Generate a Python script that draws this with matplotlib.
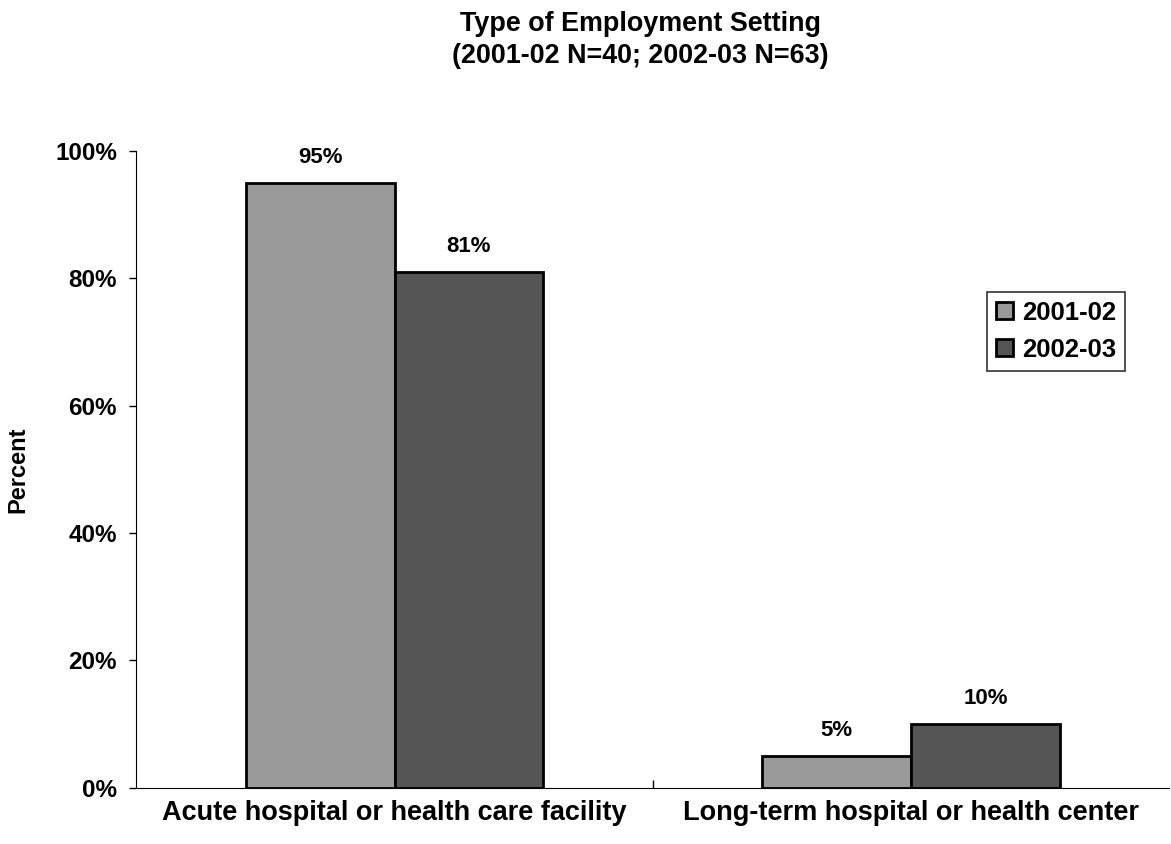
import numpy as np
import matplotlib
matplotlib.use('Agg')
import matplotlib.pyplot as plt
from matplotlib.ticker import FuncFormatter

plt.rcParams['font.family'] = ['Liberation Sans', 'DejaVu Sans']
plt.rcParams['font.weight'] = 'bold'

# data
categories = ['Acute hospital or health care facility', 'Long-term hospital or health center']
years = ['2001-02', '2002-03']
pct_2001 = [95, 5]
pct_2002 = [81, 10]
colors = ['#9a9a9a', '#555555']

fig = plt.figure(figsize=(11.71, 8.44), dpi=100)
ax = fig.add_axes([0.1165, 0.0666, 0.882, 0.7544])

x = np.arange(len(categories)) + 0.5
w = 0.288
b1 = ax.bar(x - w / 2, pct_2001, w, color=colors[0], edgecolor='black', linewidth=2, label=years[0])
b2 = ax.bar(x + w / 2, pct_2002, w, color=colors[1], edgecolor='black', linewidth=2, label=years[1])

for bars in (b1, b2):
    for r in bars:
        h = r.get_height()
        ax.text(r.get_x() + r.get_width() / 2, h + 2.3, '%d%%' % h,
                ha='center', va='bottom', fontsize=16, fontweight='bold')

ax.set_xlim(0, 2)
ax.set_ylim(0, 100)
ax.set_yticks(np.arange(0, 101, 20))
ax.yaxis.set_major_formatter(FuncFormatter(lambda v, p: '%d%%' % v))
ax.tick_params(axis='y', labelsize=17.5, length=5, width=1, pad=9)

ax.set_xticks(x)
ax.set_xticklabels(categories, fontsize=19.5, fontweight='bold')
ax.tick_params(axis='x', length=0, pad=9)
ax.set_xticks([1], minor=True)
ax.tick_params(axis='x', which='minor', length=6, width=1, direction='in')

ax.spines['top'].set_visible(False)
ax.spines['right'].set_visible(False)

ax.set_ylabel('Percent', fontsize=17, fontweight='bold')
ax.yaxis.set_label_coords(-0.1035, 0.5)

fig.text(0.547, 0.987, 'Type of Employment Setting\n(2001-02 N=40; 2002-03 N=63)',
         ha='center', va='top', fontsize=19.4, fontweight='bold', linespacing=1.3)

leg = ax.legend(loc='upper left', bbox_to_anchor=(0.824, 0.779), borderaxespad=0,
                fontsize=18.5, frameon=True, fancybox=False, edgecolor='black',
                handlelength=0.65, handleheight=0.65, handletextpad=0.35,
                borderpad=0.35, labelspacing=0.5)
leg.get_frame().set_linewidth(1.2)

fig.savefig('out.png', dpi=100)
